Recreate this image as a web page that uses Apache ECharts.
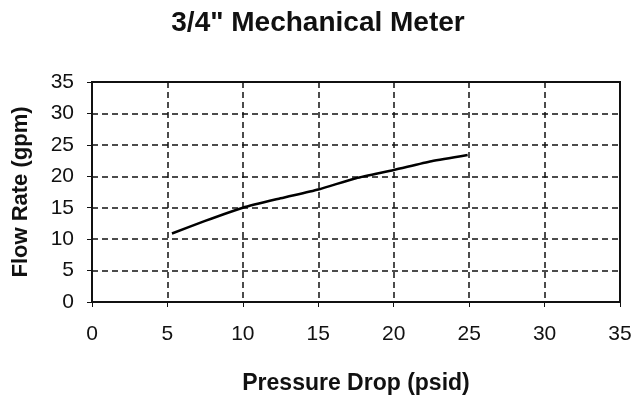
<!DOCTYPE html>
<html>
<head>
<meta charset="utf-8">
<script src="https://cdn.jsdelivr.net/npm/echarts@6/dist/echarts.min.js"></script>
<style>
    html, body { margin: 0; padding: 0; background: #fff; }
    #chart { width: 636px; height: 400px; }
</style>
</head>
<body>
<div id="chart"></div>
<script>
    // pressure drop (psid) / flow rate (gpm)
    var pressureDrop = [5.3, 7.5, 10, 12.5, 15, 17.5, 20, 22.5, 24.9];
    var flowRate = [10.9, 12.9, 15.0, 16.5, 17.9, 19.7, 21.0, 22.4, 23.4];

    var points = [];
    for (var i = 0; i < pressureDrop.length; i++) {
        points.push([pressureDrop[i], flowRate[i]]);
    }

    var dashed = {show: true, lineStyle: {color: '#111', width: 1.5, type: [6, 4]}};

    var option = {
        backgroundColor: '#fff',
        animation: false,
        title: {
            text: '3/4" Mechanical Meter',
            left: 'center',
            top: 4,
            textStyle: {fontFamily: 'Liberation Sans', fontSize: 28, fontWeight: 'bold', color: '#111'}
        },
        grid: {
            left: 92, right: 16, top: 82, bottom: 98,
            show: true, borderColor: '#111', borderWidth: 2
        },
        xAxis: {
            type: 'value',
            min: 0, max: 35, interval: 5,
            name: 'Pressure Drop (psid)',
            nameLocation: 'middle',
            nameGap: 70,
            nameTextStyle: {fontFamily: 'Liberation Sans', fontSize: 23, fontWeight: 'bold', color: '#111'},
            axisLine: {show: true, lineStyle: {color: '#111', width: 2}},
            axisTick: {show: true, length: 5, lineStyle: {color: '#111'}},
            axisLabel: {fontFamily: 'Liberation Sans', fontSize: 21, color: '#111', margin: 22},
            splitLine: dashed
        },
        yAxis: {
            type: 'value',
            min: 0, max: 35, interval: 5,
            name: 'Flow Rate (gpm)',
            nameLocation: 'middle',
            nameGap: 60,
            nameTextStyle: {fontFamily: 'Liberation Sans', fontSize: 22, fontWeight: 'bold', color: '#111'},
            axisLine: {show: true, lineStyle: {color: '#111', width: 2}},
            axisTick: {show: true, length: 5, lineStyle: {color: '#111'}},
            axisLabel: {fontFamily: 'Liberation Sans', fontSize: 21, color: '#111', margin: 18},
            splitLine: dashed
        },
        series: [{
            type: 'line',
            data: points,
            smooth: 0.2,
            symbol: 'none',
            lineStyle: {color: '#000', width: 2.5}
        }]
    };

    var chart = echarts.init(document.getElementById('chart'));
    chart.setOption(option);
</script>
</body>
</html>
